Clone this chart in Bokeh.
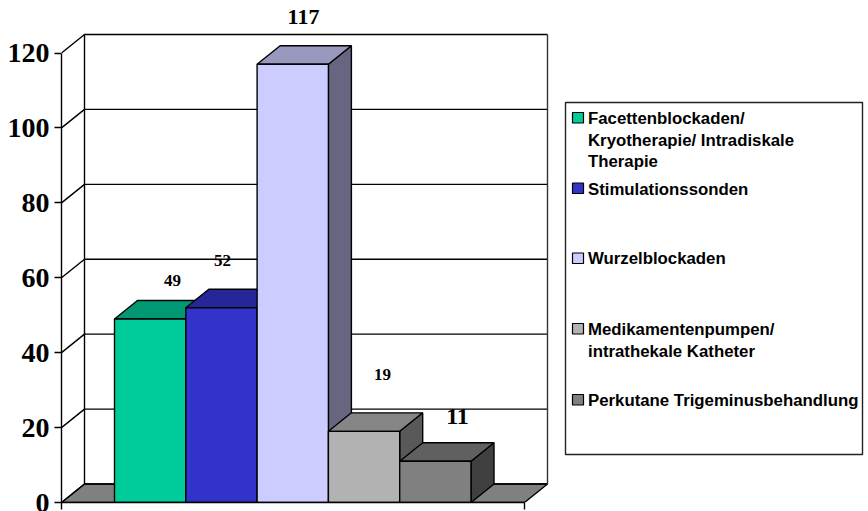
from bokeh.plotting import figure
from bokeh.embed import file_html
from bokeh.resources import INLINE
from bokeh.core.properties import value
from bokeh.models import Range1d, FixedTicker, LinearAxis

categories = ["Facettenblockaden/ Kryotherapie/ Intradiskale Therapie", "Stimulationssonden",
              "Wurzelblockaden", "Medikamentenpumpen/ intrathekale Katheter",
              "Perkutane Trigeminusbehandlung"]
values = [49, 52, 117, 19, 11]
y_ticks = [0, 20, 40, 60, 80, 100, 120]
front_colors = ["#00CC99", "#3333CC", "#CCCCFF", "#B2B2B2", "#808080"]
top_colors = ["#009973", "#262699", "#9999BF", "#868686", "#606060"]
side_colors = ["#00664D", "#1A1A66", "#666680", "#595959", "#404040"]
legend_lines = [["Facettenblockaden/", "Kryotherapie/ Intradiskale", "Therapie"],
                ["Stimulationssonden"], ["Wurzelblockaden"],
                ["Medikamentenpumpen/", "intrathekale Katheter"],
                ["Perkutane Trigeminusbehandlung"]]

W, H = 868, 511
X0, Y0 = 61, 502          # pixel origin of the front axes
PX_BAR = 71.3             # pixels per x unit (one bar)
PX_VAL = 449.5 / 120      # pixels per value unit
GAP = 53.0 / PX_BAR
AXIS_W = 463 / PX_BAR
DX = 23 / PX_BAR
DY = 18.5 / PX_VAL
YMAX = 120
LW = 1.4


def xd(px):
    return (px - X0) / PX_BAR


def yd(py):
    return (Y0 - py) / PX_VAL


p = figure(width=W, height=H, output_backend="svg", toolbar_location=None,
           x_range=Range1d(0, (W - X0) / PX_BAR), y_range=Range1d(0, Y0 / PX_VAL),
           min_border_left=X0, min_border_right=0, min_border_top=0, min_border_bottom=H - Y0,
           x_axis_location=None, y_axis_location=None, outline_line_color=None, background_fill_color="white")
p.margin = (0, 0, 0, 0)
p.grid.visible = False

yax = LinearAxis(ticker=FixedTicker(ticks=y_ticks), bounds=(0, YMAX))
yax.axis_line_color = "black"
yax.axis_line_width = LW
yax.major_tick_line_width = LW
yax.major_tick_in = 0
yax.major_tick_out = 7
yax.minor_tick_line_color = None
yax.major_label_standoff = 5
yax.major_label_text_font = "Liberation Serif"
yax.major_label_text_font_style = "bold"
yax.major_label_text_font_size = "28px"
yax.major_label_text_color = "black"
p.add_layout(yax, "left")

xax = LinearAxis(ticker=FixedTicker(ticks=[0, AXIS_W]), bounds=(0, AXIS_W))
xax.axis_line_color = "black"
xax.axis_line_width = LW
xax.major_tick_line_width = LW
xax.major_tick_in = 0
xax.major_tick_out = 7
xax.minor_tick_line_color = None
xax.major_label_text_color = None
xax.major_label_text_font_size = "1px"
p.add_layout(xax, "below")

# floor
p.patch([0, DX, AXIS_W + DX, AXIS_W], [0, DY, DY, 0], fill_color="#808080",
        line_color="black", line_width=LW)

# walls and gridlines
for t in y_ticks:
    p.line([0, DX, AXIS_W + DX], [t, t + DY, t + DY], line_color="black", line_width=LW)
p.line([DX, DX], [DY, YMAX + DY], line_color="black", line_width=LW)
p.line([AXIS_W + DX, AXIS_W + DX], [DY, YMAX + DY], line_color="#333333", line_width=LW)

# bars, left to right
for i, v in enumerate(values):
    a, b = GAP + i, GAP + i + 1
    p.patch([b, b + DX, b + DX, b], [0, DY, v + DY, v], fill_color=side_colors[i],
            line_color="black", line_width=LW)
    p.patch([a, a + DX, b + DX, b], [v, v + DY, v + DY, v], fill_color=top_colors[i],
            line_color="black", line_width=LW)
    p.quad(left=a, right=b, bottom=0, top=v, fill_color=front_colors[i],
           line_color="black", line_width=LW)

# value labels
label_px = [(172, 280, 17), (222, 260, 17), (303, 16, 22), (382, 373.5, 17), (457, 416, 24)]
for v, (lx, ly, fs) in zip(values, label_px):
    p.text([xd(lx)], [yd(ly)], text=[str(v)], text_font=value("Liberation Serif"),
           text_font_style="bold", text_font_size=f"{fs}px", text_align="center",
           text_baseline="middle", text_color="black")

# legend
p.quad(left=xd(565), right=xd(862), top=yd(102), bottom=yd(454), fill_color="white",
       line_color="#222222", line_width=LW)
swatch_top = [112, 182.5, 252.5, 323, 394]
line_y = [[118, 139.5, 160.5], [188.5], [258], [329, 351], [400]]
for i in range(5):
    p.quad(left=xd(572), right=xd(583), top=yd(swatch_top[i]), bottom=yd(swatch_top[i] + 10.5),
           fill_color=front_colors[i], line_color="black", line_width=1.2)
    for txt, ly in zip(legend_lines[i], line_y[i]):
        p.text([xd(587.5)], [yd(ly)], text=[txt], text_font=value("Liberation Sans"),
               text_font_style="bold", text_font_size="16.8px", text_align="left",
               text_baseline="middle", text_color="black")

open("out.html", "w").write(file_html(p, INLINE))
